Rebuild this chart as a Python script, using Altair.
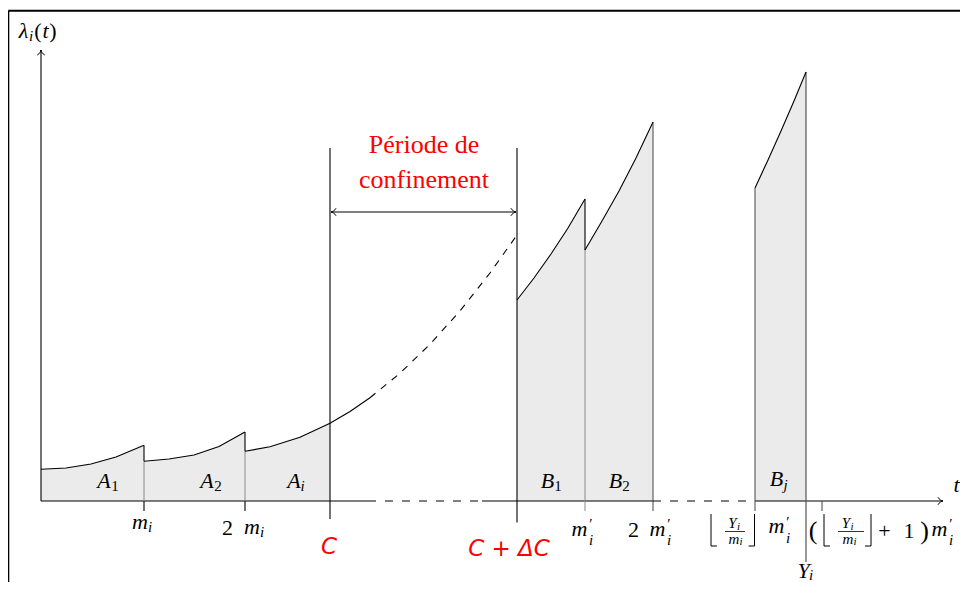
import altair as alt
import pandas as pd

# ---------------- data (t in arbitrary time units, lam = lambda_i(t)) ----------------
tick_names = ["m_i", "2 m_i", "C", "C+dC", "m'_i", "2 m'_i", "floor m'_i", "Y_i", "(floor+1) m'_i"]
tick_t = [10.3, 20.4, 28.9, 47.6, 54.4, 61.2, 71.4, 76.5, 78.1]
T_MI, T_2MI, T_C, T_CDC, T_MPI, T_2MPI, T_FL, T_YI, T_FL1 = tick_t

a1_t = [0.0, 2.5, 5.0, 7.5, 10.3]
a1_lam = [3.17, 3.3, 3.7, 4.4, 5.57]
a2_t = [10.3, 12.8, 15.3, 17.8, 20.4]
a2_lam = [3.97, 4.2, 4.6, 5.45, 6.9]
main_t = [20.4, 22.9, 25.9, 28.9, 30.9, 32.9, 35.9, 38.9, 41.9, 44.9, 47.6]
main_lam = [4.97, 5.42, 6.37, 7.77, 8.95, 10.33, 12.78, 15.67, 19.01, 22.8, 26.6]
main_solid_end = 32.9
b1_t = [47.6, 49.3, 51.0, 52.7, 54.4]
b1_lam = [20.1, 22.3, 24.7, 27.3, 30.2]
b2_t = [54.4, 56.1, 57.8, 59.5, 61.2]
b2_lam = [25.1, 28.0, 31.0, 34.3, 37.9]
bj_t = [71.4, 72.7, 74.0, 75.3, 76.5]
bj_lam = [31.3, 34.1, 37.0, 40.0, 42.9]

x_axis_end = 90.2
y_axis_end = 45.1
period_top = 35.3
period_arrow = 28.9

# ---------------- scales ----------------
XS = alt.Scale(domain=[-3.3, 91.9], nice=False, zero=False)
YS = alt.Scale(domain=[-8.1, 49.3], nice=False, zero=False)


def X(f):
    return alt.X(f, type="quantitative", scale=XS, axis=None)


def Y(f):
    return alt.Y(f, type="quantitative", scale=YS, axis=None)


def cdf(name, ts, ls):
    return pd.DataFrame({"seg": name, "t": ts, "lam": ls})


main_df = cdf("main", main_t, main_lam)

# ---------------- filled areas ----------------
areas = pd.concat([
    cdf("A1", a1_t, a1_lam),
    cdf("A2", a2_t, a2_lam),
    main_df[main_df.t <= T_C].assign(seg="Ai"),
    cdf("B1", b1_t, b1_lam),
    cdf("B2", b2_t, b2_lam),
    cdf("Bj", bj_t, bj_lam),
])
areas["base"] = 0.0
area_layer = alt.Chart(areas).mark_area(color="#ebebeb", opacity=1).encode(
    x=X("t"), y=Y("lam"), y2=alt.Y2("base"), detail="seg:N"
)

# ---------------- curves ----------------
solid = pd.concat([
    cdf("A1", a1_t, a1_lam),
    cdf("A2", a2_t, a2_lam),
    main_df[main_df.t <= main_solid_end].assign(seg="Ai"),
    cdf("B1", b1_t, b1_lam),
    cdf("B2", b2_t, b2_lam),
    cdf("Bj", bj_t, bj_lam),
])
solid_layer = alt.Chart(solid).mark_line(color="black", strokeWidth=1.1).encode(
    x=X("t"), y=Y("lam"), detail="seg:N"
)
dashed_layer = alt.Chart(main_df[main_df.t >= main_solid_end]).mark_line(
    color="black", strokeWidth=1.1, strokeDash=[7, 7]
).encode(x=X("t"), y=Y("lam"))

# ---------------- rules ----------------
K, G, D = "black", "#8a8a8a", "#555555"
rules = [
    # axes (solid parts)
    (0, 32.7, 0, 0, K, 1.1), (44.1, T_2MPI, 0, 0, K, 1.1), (T_FL, x_axis_end, 0, 0, K, 1.1),
    (0, 0, 0, y_axis_end, K, 1.1),
    # jumps at renewal points
    (T_MI, T_MI, a2_lam[0], a1_lam[-1], K, 1.1),
    (T_2MI, T_2MI, main_lam[0], a2_lam[-1], K, 1.1),
    (T_MPI, T_MPI, b2_lam[0], b1_lam[-1], K, 1.1),
    # separators inside the shaded regions
    (T_MI, T_MI, 0, a2_lam[0], G, 1.0),
    (T_2MI, T_2MI, 0, main_lam[0], G, 1.0),
    (T_MPI, T_MPI, -1.0, b2_lam[0], G, 1.0),
    (T_2MPI, T_2MPI, -1.0, b2_lam[-1], D, 1.1),
    (T_FL, T_FL, -1.0, bj_lam[0], D, 1.1),
    # ticks below the axis
    (T_MI, T_MI, -1.0, 0, K, 1.1), (T_2MI, T_2MI, -1.0, 0, K, 1.1),
    (T_FL1, T_FL1, -1.0, 0, D, 1.1),
    # C and C + dC lines, Y_i line
    (T_C, T_C, -1.8, period_top, K, 1.1),
    (T_CDC, T_CDC, -2.15, period_top, K, 1.1),
    (T_YI, T_YI, -6.1, bj_lam[-1], D, 1.2),
    # period double arrow
    (T_C + 0.1, T_CDC - 0.1, period_arrow, period_arrow, K, 1.0),
    # floor brackets and fraction bars
    (67.0, 67.0, -1.3, -4.5, K, 1.0), (67.0, 67.6, -4.5, -4.5, K, 1.0),
    (71.35, 71.35, -1.3, -4.5, K, 1.0), (70.75, 71.35, -4.5, -4.5, K, 1.0),
    (68.4, 70.4, -3.05, -3.05, K, 0.8),
    (78.3, 78.3, -1.3, -4.5, K, 1.0), (78.3, 78.9, -4.5, -4.5, K, 1.0),
    (83.0, 83.0, -1.3, -4.5, K, 1.0), (82.4, 83.0, -4.5, -4.5, K, 1.0),
    (79.7, 82.3, -3.05, -3.05, K, 0.8),
    # frame
    (-3.27, -3.27, -8.1, 49.02, K, 2.0), (-3.27, 91.9, 49.02, 49.02, K, 2.0),
]
rules_df = pd.DataFrame(rules, columns=["t", "t2", "l", "l2", "c", "w"])
rule_layer = alt.Chart(rules_df).mark_rule().encode(
    x=X("t"), x2="t2", y=Y("l"), y2="l2",
    color=alt.Color("c:N", scale=None), strokeWidth=alt.StrokeWidth("w:Q", scale=None)
)
dash_rules = pd.DataFrame([(32.7, 44.1, 0, 0), (T_2MPI, T_FL, 0, 0)], columns=["t", "t2", "l", "l2"])
dash_rule_layer = alt.Chart(dash_rules).mark_rule(color="black", strokeWidth=1.1, strokeDash=[8, 9]).encode(
    x=X("t"), x2="t2", y=Y("l"), y2="l2"
)

# ---------------- arrow heads ----------------
RIGHT = "M -1.6 -1.2 C -1.2 -0.4 -0.4 -0.1 0 0 C -0.4 0.1 -1.2 0.4 -1.6 1.2"
LEFT = "M 1.6 -1.2 C 1.2 -0.4 0.4 -0.1 0 0 C 0.4 0.1 1.2 0.4 1.6 1.2"
UP = "M -1.2 1.6 C -0.4 1.2 -0.1 0.4 0 0 C 0.1 0.4 0.4 1.2 1.2 1.6"
heads = pd.DataFrame([
    (x_axis_end, 0, RIGHT), (0, y_axis_end, UP),
    (T_C + 0.1, period_arrow, LEFT), (T_CDC - 0.1, period_arrow, RIGHT),
], columns=["t", "lam", "shape"])
head_layer = alt.Chart(heads).mark_point(filled=False, color="black", strokeWidth=1.0, size=40, opacity=1).encode(
    x=X("t"), y=Y("lam"), shape=alt.Shape("shape:N", scale=None)
)

# ---------------- text ----------------
pieces = [
    # region labels
    ("A", 6.3, 2.05, 22, "it"), ("1", 7.4, 1.5, 15, "rm"),
    ("A", 16.6, 2.05, 22, "it"), ("2", 17.7, 1.5, 15, "rm"),
    ("A", 25.3, 2.05, 22, "it"), ("i", 26.15, 1.5, 15, "it"),
    ("B", 50.65, 2.05, 22, "it"), ("1", 51.7, 1.5, 15, "rm"),
    ("B", 57.45, 2.05, 22, "it"), ("2", 58.5, 1.5, 15, "rm"),
    ("B", 73.55, 2.25, 22, "it"), ("j", 74.45, 1.6, 15, "it"),
    # tick labels
    ("m", 9.9, -2.05, 22, "it"), ("i", 10.9, -2.6, 15, "it"),
    ("2", 18.65, -2.7, 22, "rm"), ("m", 21.1, -2.55, 22, "it"), ("i", 22.1, -3.1, 15, "it"),
    ("m", 53.85, -2.75, 22, "it"), ("′", 55.0, -2.3, 15, "rm"), ("i", 55.0, -3.85, 15, "it"),
    ("2", 59.25, -2.9, 22, "rm"), ("m", 61.65, -2.75, 22, "it"), ("′", 62.8, -2.3, 15, "rm"), ("i", 62.8, -3.85, 15, "it"),
    ("Y", 76.25, -7.0, 22, "it"), ("i", 77.0, -7.4, 15, "it"),
    # floor label
    ("Y", 69.15, -2.2, 15, "it"), ("i", 69.75, -2.6, 11, "it"),
    ("m", 69.3, -3.75, 15, "it"), ("i", 70.0, -4.05, 11, "it"),
    ("m", 73.55, -2.5, 22, "it"), ("′", 74.7, -2.1, 15, "rm"), ("i", 74.7, -3.65, 15, "it"),
    # (floor + 1) label
    ("(", 77.2, -3.0, 26, "rm"),
    ("Y", 80.5, -2.2, 15, "it"), ("i", 81.1, -2.6, 11, "it"),
    ("m", 80.7, -3.75, 15, "it"), ("i", 81.4, -4.05, 11, "it"),
    ("+", 84.35, -3.0, 22, "rm"), ("1", 86.8, -3.0, 22, "rm"), (")", 88.35, -3.0, 26, "rm"),
    ("m", 89.85, -2.75, 22, "it"), ("′", 91.0, -2.3, 15, "rm"), ("i", 91.0, -3.85, 15, "it"),
    # axis titles
    ("λ", -1.75, 47.0, 22, "it"), ("i", -1.0, 46.5, 15, "it"),
    ("(", -0.3, 47.0, 22, "rm"), ("t", 0.45, 47.0, 22, "it"), (")", 1.2, 47.0, 22, "rm"),
    ("t", 91.55, 1.6, 22, "it"),
    # red annotations
    ("C", 28.8, -4.6, 23, "rs"), ("C + ΔC", 46.8, -4.8, 23, "rs"),
    ("Période de", 38.3, 35.6, 26, "rserif"), ("confinement", 38.3, 32.1, 26, "rserif"),
]
pieces_df = pd.DataFrame(pieces, columns=["txt", "t", "lam", "size", "kind"])
styles = {
    "it": dict(font="Liberation Serif", fontStyle="italic", color="black"),
    "rm": dict(font="Liberation Serif", fontStyle="normal", color="black"),
    "rs": dict(font="DejaVu Sans", fontStyle="italic", color="#ff0000"),
    "rserif": dict(font="Liberation Serif", fontStyle="normal", color="#ff0000"),
}
text_layers = []
for kind, st in styles.items():
    sub = pieces_df[pieces_df.kind == kind]
    text_layers.append(
        alt.Chart(sub).mark_text(align="center", baseline="middle", **st).encode(
            x=X("t"), y=Y("lam"), text="txt:N", size=alt.Size("size:Q", scale=None)
        )
    )

chart = alt.layer(
    area_layer, rule_layer, dash_rule_layer, solid_layer, dashed_layer, head_layer, *text_layers
).properties(
    width=952, height=574, padding=0, autosize=alt.AutoSizeParams(type="none"), background="white"
).configure_view(stroke=None)

chart.save("out.html", embed_options={"renderer": "svg", "actions": False})
